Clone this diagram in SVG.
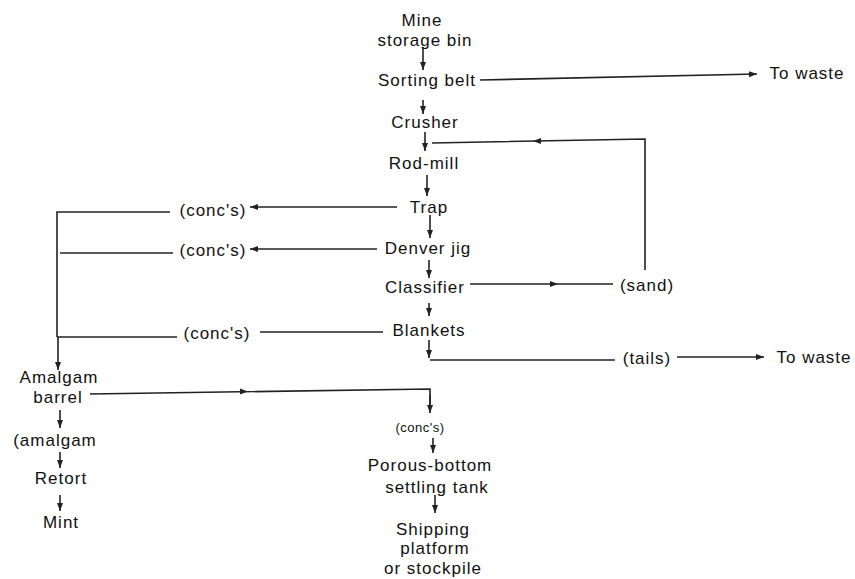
<svg xmlns="http://www.w3.org/2000/svg" width="855" height="579" viewBox="0 0 855 579">
<style>
text{font-family:"Liberation Sans",Arial,sans-serif;font-size:17px;letter-spacing:1px;fill:#111;text-anchor:middle}
.sm{font-size:13px;letter-spacing:0.5px}
.ln{fill:none;stroke:#222;stroke-width:1.6}
.ar{marker-end:url(#ah)}
.mid{fill:#222}
</style>
<defs>
<marker id="ah" markerUnits="userSpaceOnUse" markerWidth="10" markerHeight="10" refX="8" refY="5" orient="auto">
<path d="M0,2 L8,5 L0,8 Z" fill="#222"/>
</marker>
</defs>
<g id="connectors">
<path class="ln ar" d="M423,47 V70"/>
<path class="ln ar" d="M480,80 L757,74"/>
<path class="ln ar" d="M423,100 V114"/>
<path class="ln ar" d="M425,132 V151"/>
<path class="ln" d="M645,270 V139 L432,143"/>
<path class="mid" d="M533,141 L541,138 L541,144 Z"/>
<path class="ln ar" d="M427,175 V196"/>
<path class="ln ar" d="M397,207 H250"/>
<path class="ln" d="M170,212 H57 V337"/>
<path class="ln ar" d="M58,337 V370"/>
<path class="ln ar" d="M430,215 V238"/>
<path class="ln ar" d="M377,249 H250"/>
<path class="ln" d="M173,253 H60"/>
<path class="ln ar" d="M429,260 V278"/>
<path class="ln" d="M470,284 H613"/>
<path class="mid" d="M558,284 L550,281 L550,287 Z"/>
<path class="ln ar" d="M429,303 V316"/>
<path class="ln" d="M383,332 H260"/>
<path class="ln" d="M177,337 H57"/>
<path class="ln ar" d="M429,340 V358"/>
<path class="ln" d="M430,360 H615"/>
<path class="ln ar" d="M677,357 H764"/>
<path class="ln" d="M90,394 L430,389 V405"/>
<path class="ln ar" d="M430,395 V413"/>
<path class="mid" d="M248,391.5 L240,388.5 L240,394.5 Z"/>
<path class="ln ar" d="M433,438 V453"/>
<path class="ln ar" d="M435,495 V513"/>
<path class="ln ar" d="M60,410 V428"/>
<path class="ln ar" d="M60,452 V468"/>
<path class="ln ar" d="M60,495 V511"/>
</g>
<g id="mine-storage-bin"><text x="422" y="26">Mine</text><text x="425" y="46">storage bin</text></g>
<g id="sorting-belt"><text x="427" y="86">Sorting belt</text></g>
<g id="waste-1"><text x="807" y="79">To waste</text></g>
<g id="crusher"><text x="425" y="128">Crusher</text></g>
<g id="rod-mill"><text x="424" y="169">Rod-mill</text></g>
<g id="trap"><text x="429" y="213">Trap</text></g>
<g id="concs-1"><text x="213" y="216">(conc's)</text></g>
<g id="denver-jig"><text x="428" y="254">Denver jig</text></g>
<g id="concs-2"><text x="213" y="256">(conc's)</text></g>
<g id="classifier"><text x="425" y="293">Classifier</text></g>
<g id="sand"><text x="647" y="291">(sand)</text></g>
<g id="blankets"><text x="429" y="336">Blankets</text></g>
<g id="concs-3"><text x="217" y="339">(conc's)</text></g>
<g id="tails"><text x="647" y="364">(tails)</text></g>
<g id="waste-2"><text x="814" y="363">To waste</text></g>
<g id="amalgam-barrel"><text x="59" y="383">Amalgam</text><text x="58" y="403">barrel</text></g>
<g id="amalgam"><text x="55" y="446">(amalgam</text></g>
<g id="retort"><text x="61" y="484">Retort</text></g>
<g id="mint"><text x="61" y="528">Mint</text></g>
<g id="concs-4"><text class="sm" x="420" y="432">(conc's)</text></g>
<g id="settling-tank"><text x="430" y="471">Porous-bottom</text><text x="437" y="493">settling tank</text></g>
<g id="shipping"><text x="433" y="535">Shipping</text><text x="435" y="554">platform</text><text x="433" y="574">or stockpile</text></g>
</svg>
